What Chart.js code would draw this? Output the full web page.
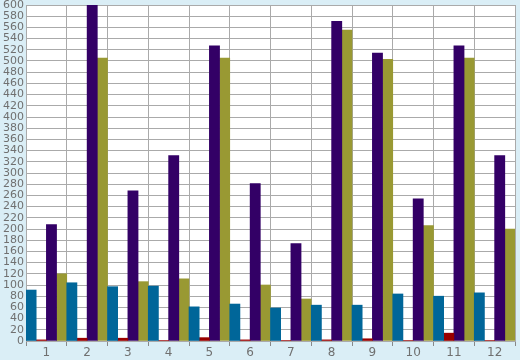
<!DOCTYPE html>
<html>
<head>
<meta charset="utf-8">
<script src="https://cdn.jsdelivr.net/npm/chart.js@4/dist/chart.umd.min.js"></script>
<style>
html,body{margin:0;padding:0;background:#daeef6;}
#wrap{width:520px;height:360px;position:relative;}
</style>
</head>
<body>
<div id="wrap"><canvas id="c" width="520" height="360"></canvas></div>
<script>
const categories = ['1','2','3','4','5','6','7','8','9','10','11','12'];
const seriesBlue   = [91,104,97,98,61,66,59,64,64,84,80,86];
const seriesRed    = [2,5,5,1,6,2,1,2,4,1,14,1];
const seriesPurple = [208,600,268,331,527,281,174,571,514,254,527,331];
const seriesOlive  = [120,505,106,111,505,100,75,555,503,206,505,200];
const yMin = 0, yMax = 600, yStep = 20;

const plotBg = {
  id: 'plotBg',
  beforeDraw(chart) {
    const {ctx, chartArea: a} = chart;
    ctx.save();
    ctx.fillStyle = '#ffffff';
    ctx.fillRect(a.left, a.top, a.right - a.left, a.bottom - a.top);
    ctx.restore();
  }
};

const mk = (data, color) => ({
  data, backgroundColor: color, borderWidth: 0,
  barPercentage: 1.0, categoryPercentage: 1.0
});

new Chart(document.getElementById('c'), {
  type: 'bar',
  data: {
    labels: categories,
    datasets: [
      mk(seriesBlue, '#006699'),
      mk(seriesRed, '#990000'),
      mk(seriesPurple, '#330066'),
      mk(seriesOlive, '#999933')
    ]
  },
  options: {
    responsive: false,
    animation: false,
    layout: { padding: { top: 5, right: 5, left: 0, bottom: 0 } },
    plugins: { legend: { display: false }, tooltip: { enabled: false } },
    scales: {
      x: {
        grid: { color: '#aaaaaa', lineWidth: 1, offset: true, drawTicks: true, tickLength: 5, tickColor: '#888888' },
        border: { display: true, color: '#aaaaaa' },
        ticks: { color: '#707070', font: { family: 'DejaVu Sans', size: 12 }, padding: 0, maxRotation: 0 },
        afterFit(s) { s.height = 19; s.paddingLeft = 0; s.paddingRight = 0; }
      },
      y: {
        min: yMin, max: yMax,
        grid: { color: '#aaaaaa', lineWidth: 1, drawTicks: false },
        border: { display: true, color: '#aaaaaa' },
        ticks: { stepSize: yStep, color: '#707070', font: { family: 'DejaVu Sans', size: 11 }, padding: 2, autoSkip: false },
        afterFit(s) { s.width = 26; s.paddingTop = 0; s.paddingBottom = 0; }
      }
    }
  },
  plugins: [plotBg]
});
</script>
</body>
</html>
